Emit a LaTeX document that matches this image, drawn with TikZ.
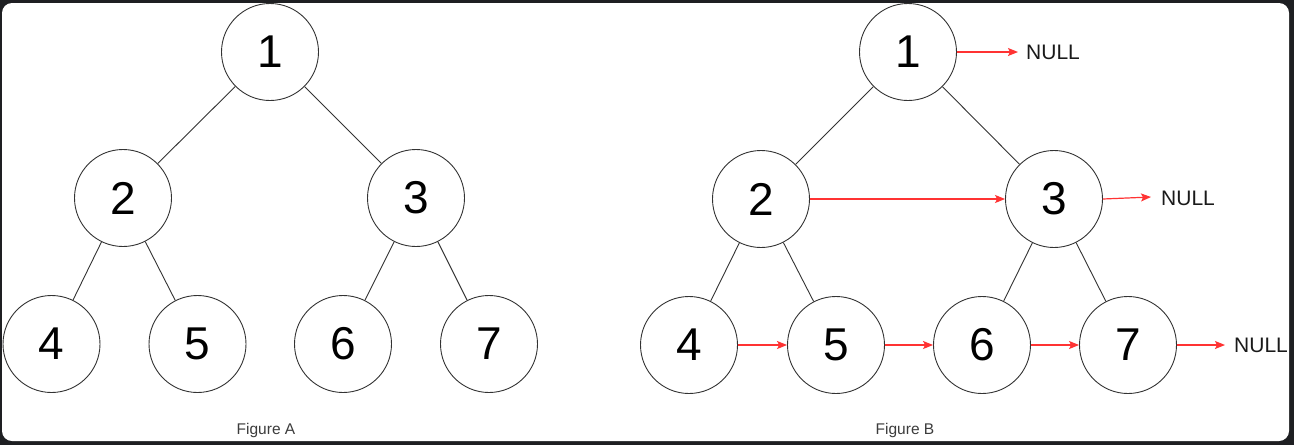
\documentclass[tikz,border=0pt]{standalone}
\usepackage{fontspec}
\setmainfont{Liberation Sans}
\usetikzlibrary{arrows.meta}
\definecolor{bgdark}{HTML}{1E1F22}
\definecolor{nodeline}{HTML}{333333}
\definecolor{linkred}{HTML}{FF3333}
\definecolor{txt}{HTML}{1A1A1A}
\tikzset{
  tnode/.style={circle, draw=nodeline, line width=0.9pt, fill=white, minimum size=97pt, inner sep=0pt, text=black, font=\fontsize{46}{46}\selectfont},
  tedge/.style={draw=nodeline, line width=0.9pt},
  nextlink/.style={draw=linkred, line width=1.2pt, -{Stealth[length=10pt,width=8pt,inset=2pt]}},
  nulltext/.style={inner sep=0pt, anchor=west, text=txt, font=\fontsize{21}{21}\selectfont},
  captiontext/.style={inner sep=0pt, text=txt!85, font=\fontsize{15.5}{16}\selectfont}
}
\begin{document}
\begin{tikzpicture}[x=1pt,y=-1pt]
\fill[bgdark] (0,0) rectangle (1294,445);
\fill[white, rounded corners=10pt] (2,3) rectangle (1289,441);
\useasboundingbox (0,0) rectangle (1294,445);
% Figure A
\node[tnode] (a1) at (270,52) {1};
\node[tnode] (a2) at (123,198) {2};
\node[tnode] (a3) at (416,198) {3};
\node[tnode] (a4) at (51.5,344) {4};
\node[tnode] (a5) at (197.5,344) {5};
\node[tnode] (a6) at (343,344) {6};
\node[tnode] (a7) at (489,344) {7};
\draw[tedge] (a1) -- (a2);
\draw[tedge] (a1) -- (a3);
\draw[tedge] (a2) -- (a4);
\draw[tedge] (a2) -- (a5);
\draw[tedge] (a3) -- (a6);
\draw[tedge] (a3) -- (a7);
\node[captiontext] (capA) at (266,430) {Figure A};
% Figure B
\node[tnode] (b1) at (908,52) {1};
\node[tnode] (b2) at (761,199) {2};
\node[tnode] (b3) at (1054,199) {3};
\node[tnode] (b4) at (689,345) {4};
\node[tnode] (b5) at (836,345) {5};
\node[tnode] (b6) at (982,345) {6};
\node[tnode] (b7) at (1128,345) {7};
\draw[tedge] (b1) -- (b2);
\draw[tedge] (b1) -- (b3);
\draw[tedge] (b2) -- (b4);
\draw[tedge] (b2) -- (b5);
\draw[tedge] (b3) -- (b6);
\draw[tedge] (b3) -- (b7);
\node[nulltext] (n1) at (1026,52) {NULL};
\node[nulltext] (n3) at (1161,198) {NULL};
\node[nulltext] (n7) at (1234,345) {NULL};
\coordinate (t1) at (1018,52);
\coordinate (t3) at (1151,197);
\coordinate (t7) at (1225,345);
\draw[nextlink] (b1.east) -- (t1);
\draw[nextlink] (b2.east) -- (b3.west);
\draw[nextlink] (b3.east) -- (t3);
\draw[nextlink] (b4.east) -- (b5.west);
\draw[nextlink] (b5.east) -- (b6.west);
\draw[nextlink] (b6.east) -- (b7.west);
\draw[nextlink] (b7.east) -- (t7);
\node[captiontext] (capB) at (905,430) {Figure B};
\end{tikzpicture}
\end{document}
